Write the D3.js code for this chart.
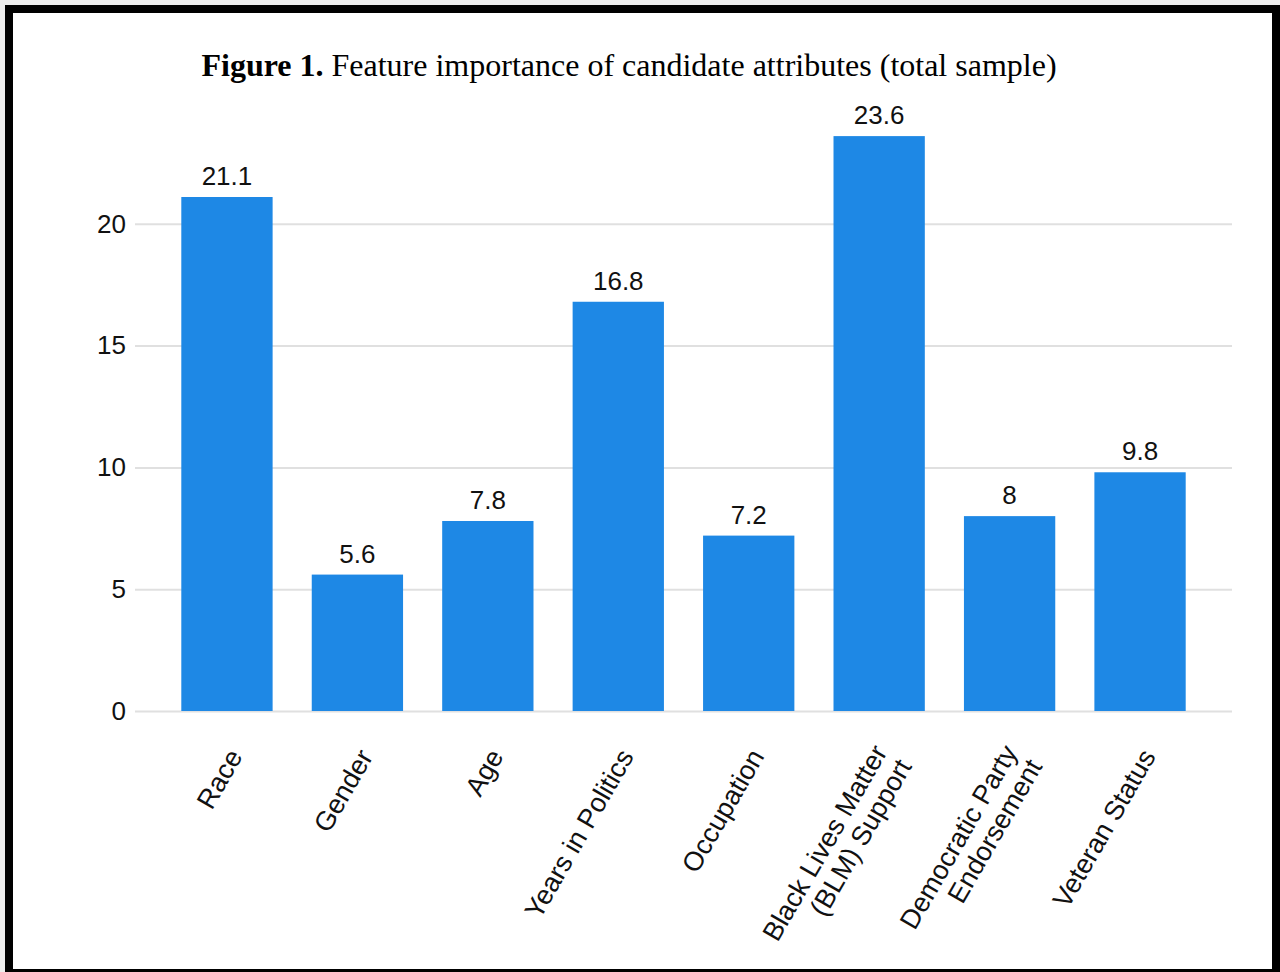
<!DOCTYPE html>
<html>
<head>
<meta charset="utf-8">
<script src="https://cdn.jsdelivr.net/npm/d3@7"></script>
<style>
  html, body { margin: 0; padding: 0; background: #ededed; }
  svg { display: block; }
</style>
</head>
<body>
<svg id="chart" width="1280" height="972"></svg>
<script>
// Candidate attributes and their feature importance (total sample)
const categories = [
  ["Race"],
  ["Gender"],
  ["Age"],
  ["Years in Politics"],
  ["Occupation"],
  ["Black Lives Matter", "(BLM) Support"],
  ["Democratic Party", "Endorsement"],
  ["Veteran Status"]
];
const importance = [21.1, 5.6, 7.8, 16.8, 7.2, 23.6, 8, 9.8];
const yTicks = [0, 5, 10, 15, 20];

const svg = d3.select("#chart");

// Framed white panel
svg.append("rect")
  .attr("x", 9).attr("y", 9)
  .attr("width", 1267).attr("height", 964)
  .attr("fill", "#fff")
  .attr("stroke", "#000")
  .attr("stroke-width", 8);

// Title
const title = svg.append("text")
  .attr("x", 629).attr("y", 76)
  .attr("text-anchor", "middle")
  .attr("font-family", "'Liberation Serif', 'Times New Roman', serif")
  .attr("font-size", 32)
  .attr("fill", "#000");
title.append("tspan").attr("font-weight", "bold").text("Figure 1.");
title.append("tspan").text(" Feature importance of candidate attributes (total sample)");

const left = 135, right = 1232, bottom = 711;
const x = d3.scaleBand()
  .domain(d3.range(categories.length))
  .range([left, right])
  .paddingInner(0.3)
  .paddingOuter(0.355);

const y = d3.scaleLinear().domain([0, 25]).range([bottom, 102]);

const font = "'Liberation Sans', Arial, sans-serif";

// Horizontal gridlines and y tick labels
const yAxis = d3.axisLeft(y)
  .tickValues(yTicks)
  .tickSize(-(right - left))
  .tickPadding(9)
  .tickFormat(d3.format("d"));

const gy = svg.append("g")
  .attr("transform", `translate(${left},0)`)
  .call(yAxis);
gy.select(".domain").remove();
gy.selectAll(".tick line")
  .attr("stroke", "#e0e0e0")
  .attr("stroke-width", 2);
gy.selectAll(".tick text")
  .attr("font-family", font)
  .attr("font-size", 26)
  .attr("fill", "#111");

// Bars
svg.append("g")
  .selectAll("rect")
  .data(importance)
  .join("rect")
  .attr("x", (d, i) => x(i))
  .attr("y", d => y(d))
  .attr("width", x.bandwidth())
  .attr("height", d => y(0) - y(d))
  .attr("fill", "#1e88e5");

// Value labels above bars
svg.append("g")
  .selectAll("text")
  .data(importance)
  .join("text")
  .attr("x", (d, i) => x(i) + x.bandwidth() / 2)
  .attr("y", d => y(d) - 12)
  .attr("text-anchor", "middle")
  .attr("font-family", font)
  .attr("font-size", 26)
  .attr("fill", "#111")
  .text(d => d);

// Slanted category labels
const labels = svg.append("g")
  .selectAll("text")
  .data(categories)
  .join("text")
  .attr("transform", (d, i) =>
    `translate(${x(i) + x.bandwidth() / 2 + 14},${bottom + 44}) rotate(-60)`)
  .attr("text-anchor", "end")
  .attr("font-family", font)
  .attr("font-size", 27)
  .attr("fill", "#111");

labels.each(function(lines) {
  const t = d3.select(this);
  const n = lines.length;
  const base = n === 1 ? 0.1 : 0.3;
  lines.forEach((line, k) => {
    t.append("tspan")
      .attr("x", 0)
      .attr("y", 0)
      .attr("dy", ((k - (n - 1) / 2) * 1.05 + base) + "em")
      .text(line);
  });
});
</script>
</body>
</html>
